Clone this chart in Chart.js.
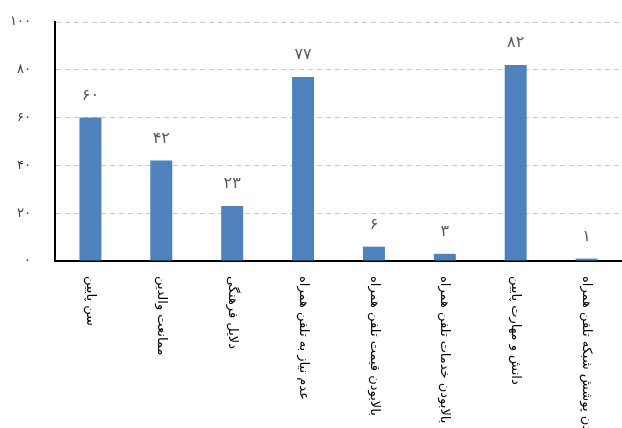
<!DOCTYPE html>
<html>
<head>
<meta charset="utf-8">
<script src="https://cdn.jsdelivr.net/npm/chart.js@4.4.0/dist/chart.umd.min.js"></script>
<style>
html,body{margin:0;padding:0;background:#fff;}
#wrap{width:622px;height:428px;position:relative;}
</style>
</head>
<body>
<div id="wrap"><canvas id="c"></canvas></div>
<script>
const categories = [
  "سن پایین",
  "ممانعت والدین",
  "دلایل فرهنگی",
  "عدم نیاز به تلفن همراه",
  "بالابودن قیمت تلفن همراه",
  "بالابودن خدمات تلفن همراه",
  "دانش و مهارت پایین",
  "نبودن پوشش شبکه تلفن همراه"
];
const values = [60, 42, 23, 77, 6, 3, 82, 1];
const yTicks = [0, 20, 40, 60, 80, 100];

const FONT = "'DejaVu Sans', sans-serif";
function fa(n){ return String(n).replace(/[0-9]/g, d => "۰۱۲۳۴۵۶۷۸۹"[d]); }

const labelPlugin = {
  id: 'customLabels',
  afterDatasetsDraw(chart){
    const ctx = chart.ctx;
    const meta = chart.getDatasetMeta(0);
    ctx.save();
    ctx.fillStyle = '#595959';
    ctx.font = "16px " + FONT;
    ctx.textAlign = 'center';
    ctx.textBaseline = 'bottom';
    meta.data.forEach((bar, i) => {
      ctx.fillText(fa(values[i]), bar.x, bar.y - 14);
    });
    ctx.restore();
    const xs = chart.scales.x;
    ctx.save();
    ctx.fillStyle = '#000';
    ctx.font = "13px " + FONT;
    ctx.textAlign = 'left';
    ctx.textBaseline = 'middle';
    categories.forEach((c, i) => {
      const x = xs.getPixelForValue(i);
      ctx.save();
      ctx.translate(x, xs.top + 15);
      ctx.rotate(Math.PI / 2);
      ctx.fillText(c, 0, 0);
      ctx.restore();
    });
    ctx.restore();
  }
};

new Chart(document.getElementById('c'), {
  type: 'bar',
  data: {
    labels: categories,
    datasets: [{
      data: values,
      backgroundColor: '#4F81BD',
      barPercentage: 0.62,
      categoryPercentage: 0.5
    }]
  },
  options: {
    responsive: true,
    maintainAspectRatio: false,
    animation: false,
    layout: { padding: { top: 22, right: 0, left: 0, bottom: 0 } },
    plugins: { legend: { display: false }, tooltip: { enabled: false } },
    scales: {
      x: {
        grid: { display: false },
        border: { display: true, color: '#000', width: 2 },
        ticks: { display: false },
        afterFit(s){ s.height = 167; }
      },
      y: {
        min: 0, max: 100,
        afterBuildTicks(s){ s.ticks = yTicks.map(v => ({ value: v })); },
        grid: { color: '#c8c8c8', lineWidth: 1, drawTicks: false },
        border: { display: true, color: '#000', width: 2, dash: [5, 4] },
        ticks: {
          padding: 24,
          color: '#404040',
          font: { family: FONT, size: 13 },
          callback: v => fa(v)
        },
        afterFit(s){ s.width = 55; s.paddingTop = 0; s.paddingBottom = 0; }
      }
    }
  },
  plugins: [labelPlugin]
});
</script>
</body>
</html>
